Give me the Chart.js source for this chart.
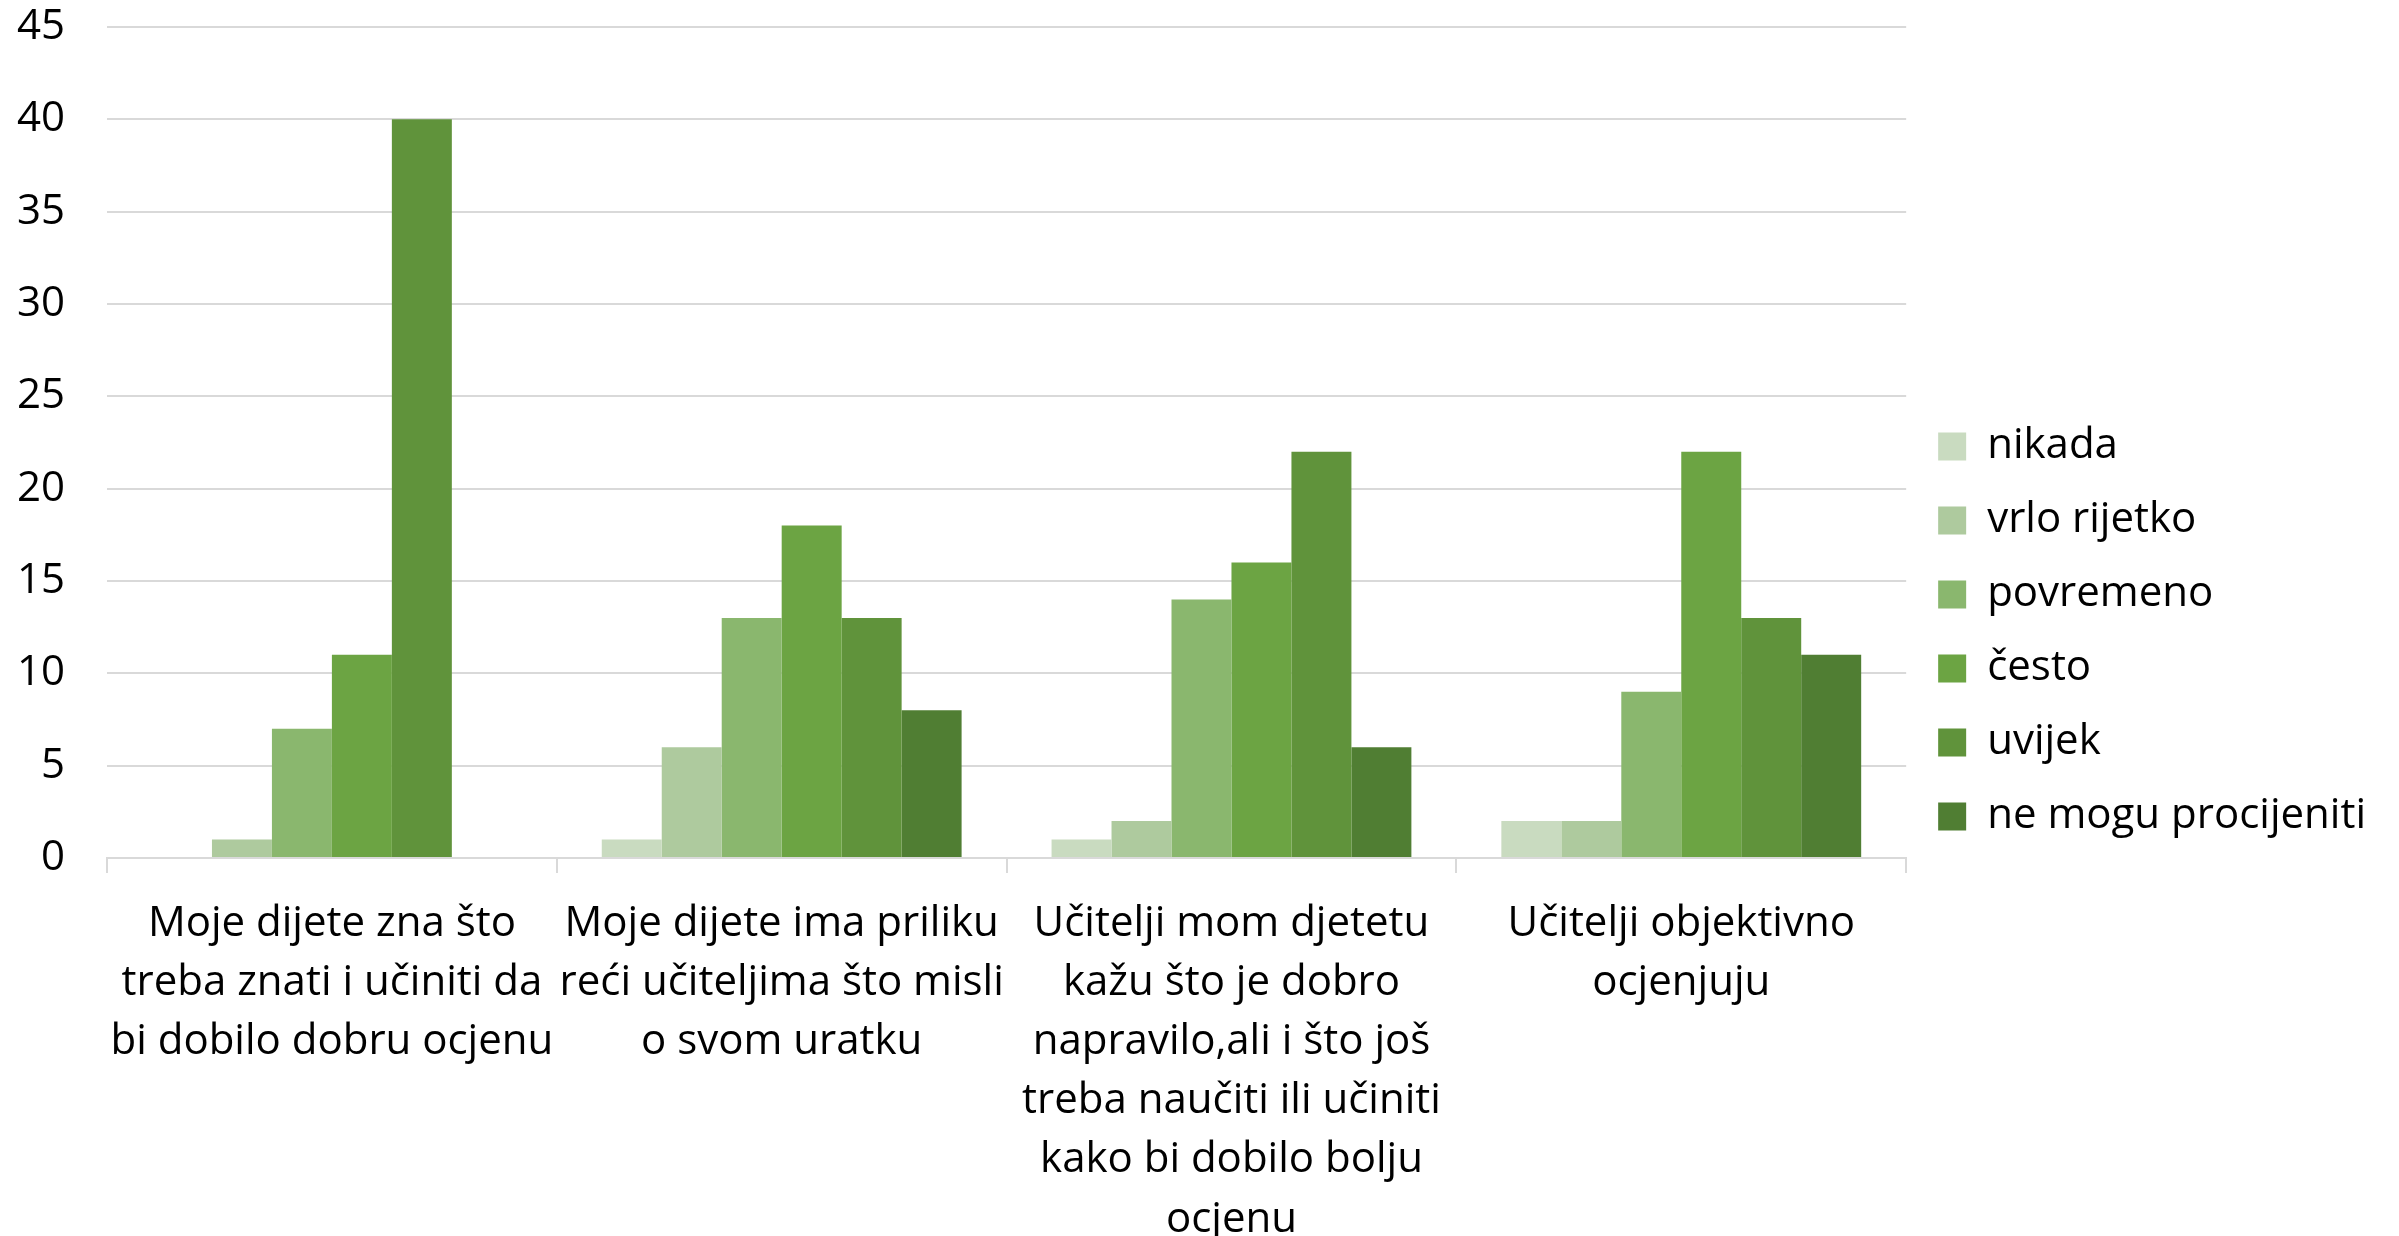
<!DOCTYPE html>
<html>
<head>
<meta charset="utf-8">
<script src="https://cdn.jsdelivr.net/npm/chart.js@4/dist/chart.umd.min.js"></script>
<style>
  html, body { margin: 0; padding: 0; background: #fff; }
  #chart { display: block; }
</style>
</head>
<body>
<canvas id="chart" width="2399" height="1236"></canvas>
<script>
const categories = [
  ['Moje dijete zna što', 'treba znati i učiniti da', 'bi dobilo dobru ocjenu'],
  ['Moje dijete ima priliku', 'reći učiteljima što misli', 'o svom uratku'],
  ['Učitelji mom djetetu', 'kažu što je dobro', 'napravilo,ali i što još', 'treba naučiti ili učiniti', 'kako bi dobilo bolju', 'ocjenu'],
  ['Učitelji objektivno', 'ocjenjuju']
];

const seriesNames  = ['nikada', 'vrlo rijetko', 'povremeno', 'često', 'uvijek', 'ne mogu procijeniti'];
const seriesColors = ['#C9DBC0', '#AECA9E', '#8AB76E', '#6CA443', '#60933B', '#507E33'];

const nikada      = [0, 1, 1, 2];
const vrloRijetko = [1, 6, 2, 2];
const povremeno   = [7, 13, 14, 9];
const cesto       = [11, 18, 16, 22];
const uvijek      = [40, 13, 22, 13];
const neMogu      = [0, 8, 6, 11];

const yTicks = [0, 5, 10, 15, 20, 25, 30, 35, 40, 45];

const FONT = 'Open Sans';
const seriesValues = [nikada, vrloRijetko, povremeno, cesto, uvijek, neMogu];

new Chart(document.getElementById('chart'), {
  type: 'bar',
  data: {
    labels: categories,
    datasets: seriesNames.map((name, i) => ({
      label: name,
      data: seriesValues[i],
      backgroundColor: seriesColors[i],
      borderWidth: 0,
      categoryPercentage: 0.8,
      barPercentage: 1.0
    }))
  },
  options: {
    responsive: false,
    animation: false,
    layout: { padding: { top: 27, left: 14, right: 23, bottom: 0 } },
    plugins: {
      tooltip: { enabled: false },
      legend: {
        position: 'right',
        align: 'center',
        labels: {
          color: '#000',
          boxWidth: 28,
          boxHeight: 28,
          padding: 32,
          font: { family: FONT, size: 42 }
        }
      }
    },
    scales: {
      x: {
        // fixed band under the plot; the last label line may run off the page like in the original
        afterFit: axis => { axis.height = 378; axis.paddingLeft = 0; axis.paddingRight = 0; },
        grid: { drawOnChartArea: false, color: '#D9D9D9', lineWidth: 2, tickLength: 15 },
        border: { color: '#D9D9D9', width: 2 },
        ticks: {
          color: '#000',
          maxRotation: 0,
          autoSkip: false,
          padding: 21,
          font: { family: FONT, size: 42, lineHeight: 1.41 }
        }
      },
      y: {
        min: yTicks[0],
        max: yTicks[yTicks.length - 1],
        afterBuildTicks: axis => { axis.ticks = yTicks.map(v => ({ value: v })); },
        afterFit: axis => { axis.width = 93; axis.paddingTop = 0; axis.paddingBottom = 0; },
        grid: { color: '#D9D9D9', lineWidth: 2, drawTicks: false },
        border: { display: false },
        ticks: {
          color: '#000',
          padding: 42,
          font: { family: FONT, size: 42 }
        }
      }
    }
  }
});
</script>
</body>
</html>
